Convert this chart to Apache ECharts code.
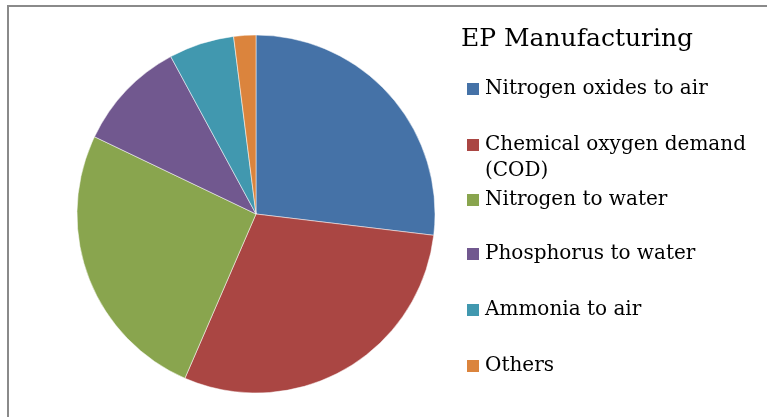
<!DOCTYPE html>
<html>
<head>
<meta charset="utf-8">
<script src="https://cdn.jsdelivr.net/npm/echarts@6/dist/echarts.min.js"></script>
<style>
  html, body { margin: 0; padding: 0; background: #fff; }
  #pie { width: 767px; height: 417px; }
</style>
</head>
<body>
<div id="pie"></div>
<script>
// data (percent of total)
var categories = ["Nitrogen oxides to air", "Chemical oxygen demand (COD)", "Nitrogen to water",
                  "Phosphorus to water", "Ammonia to air", "Others"];
var values = [26.9, 29.6, 25.6, 10.0, 5.9, 2.0];
var colors = ["#4572A7", "#AA4643", "#89A54E", "#71588F", "#4198AF", "#DB843D"];
var chartTitle = "EP Manufacturing";

var myChart = echarts.init(document.getElementById('pie'));

var font = "'DejaVu Serif', 'Liberation Serif', serif";

// one legend per entry so the wrapped COD label keeps its icon on the first line
var legendCenters = [89, 145, 200, 254, 310, 366];
var legends = categories.map(function (name, i) {
    var wrap = name.indexOf("(COD)") >= 0;
    return {
        data: [name],
        orient: 'vertical',
        left: 465,
        top: wrap ? legendCenters[i] - 39 : legendCenters[i] - 13,
        padding: 0,
        itemWidth: 14,
        itemHeight: 14,
        icon: 'rect',
        selectedMode: false,
        formatter: function (n) {
            // blank first line pushes the wrapped text so line one sits beside the icon
            return n.indexOf("(COD)") >= 0 ? "\n" + n.replace(" (COD)", "\n(COD)") : n;
        },
        textStyle: {
            fontFamily: font,
            fontSize: 20,
            lineHeight: 26,
            color: "#000"
        }
    };
});

var option = {
    backgroundColor: "#fff",
    animation: false,
    color: colors,
    title: {
        text: chartTitle,
        left: 461,
        top: 27,
        padding: 0,
        textStyle: {
            fontFamily: font,
            fontSize: 25,
            fontWeight: 'normal',
            color: "#000"
        }
    },
    legend: legends,
    graphic: [{
        type: 'rect',
        shape: { x: 8, y: 6, width: 900, height: 600 },
        style: { fill: null, stroke: "#8a8a8a", lineWidth: 2 },
        silent: true
    }],
    series: [{
        type: 'pie',
        center: [256, 214],
        radius: 179,
        startAngle: 90,
        clockwise: true,
        label: { show: false },
        labelLine: { show: false },
        itemStyle: { borderColor: "#fff", borderWidth: 0.5 },
        emphasis: { disabled: true },
        data: categories.map(function (c, i) {
            return { name: c, value: values[i] };
        })
    }]
};

myChart.setOption(option);
</script>
</body>
</html>
